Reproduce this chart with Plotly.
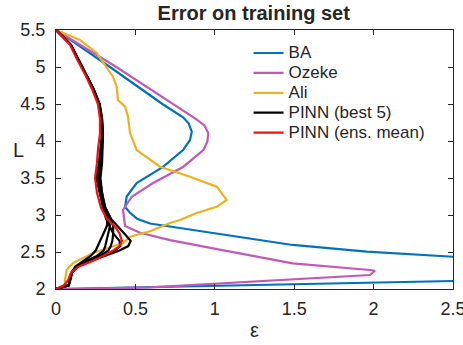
import plotly.graph_objects as go

# ---- data: error eps (x) against L (y) ----
ba_eps = [0, 0.34, 0.67, 0.80, 0.835, 0.855, 0.844, 0.80, 0.674, 0.508, 0.445, 0.435, 0.466,
          0.51, 0.592, 0.989, 1.49, 1.957, 2.5, 3.0, 3.2, 3.0, 2.5, 1.5, 0.5, 0.05, 0]
ba_L = [5.5, 5.0, 4.5, 4.32, 4.24, 4.126, 4.014, 3.878, 3.65, 3.43, 3.25, 3.11, 3.03,
        2.95, 2.885, 2.757, 2.595, 2.504, 2.436, 2.41, 2.3, 2.13, 2.108, 2.065, 2.022,
        2.002, 2.0]

ozeke_eps = [0, 0.38, 0.88, 0.935, 0.959, 0.953, 0.928, 0.80, 0.611, 0.477, 0.422, 0.435,
             0.529, 0.718, 0.989, 1.49, 1.977, 2.009, 1.977, 1.49, 1.0, 0.592, 0.3, 0]
ozeke_L = [5.5, 5.0, 4.30, 4.21, 4.104, 3.99, 3.878, 3.649, 3.432, 3.247, 3.068, 2.85,
           2.76, 2.66, 2.55, 2.347, 2.257, 2.247, 2.189, 2.131, 2.065, 2.023, 2.008, 2.0]

ali_eps = [0, 0.151, 0.256, 0.319, 0.359, 0.382, 0.39, 0.435, 0.453, 0.466, 0.508, 0.655,
           0.844, 1.012, 1.075, 1.012, 0.886, 0.781, 0.718, 0.592, 0.466, 0.422, 0.233,
           0.107, 0.067, 0.057, 0.055, 0]
ali_L = [5.5, 5.365, 5.19, 5.004, 4.869, 4.734, 4.554, 4.464, 4.328, 4.108, 3.878, 3.653,
         3.518, 3.383, 3.203, 3.112, 3.027, 2.932, 2.892, 2.78, 2.707, 2.62, 2.486,
         2.351, 2.257, 2.122, 2.03, 2.0]

pinn_L = [5.5, 5.3, 5.1, 4.9, 4.7, 4.5, 4.3, 4.1, 3.9, 3.7, 3.5, 3.3, 3.1, 2.95, 2.85,
          2.75, 2.65, 2.58, 2.52, 2.45, 2.38, 2.3, 2.22, 2.12, 2.05, 2.0]

pinn_best5 = [
    [0, 0.095, 0.142, 0.192, 0.238, 0.275, 0.29, 0.292, 0.285, 0.28, 0.275, 0.29, 0.31,
     0.345, 0.39, 0.43, 0.47, 0.455, 0.40, 0.31, 0.22, 0.135, 0.10, 0.09, 0.08, 0],
    [0, 0.093, 0.14, 0.19, 0.235, 0.272, 0.287, 0.29, 0.28, 0.27, 0.255, 0.275, 0.30,
     0.325, 0.32, 0.30, 0.28, 0.265, 0.25, 0.22, 0.17, 0.12, 0.10, 0.09, 0.08, 0],
    [0, 0.094, 0.141, 0.191, 0.236, 0.274, 0.29, 0.295, 0.29, 0.285, 0.27, 0.285, 0.31,
     0.345, 0.36, 0.36, 0.355, 0.345, 0.33, 0.28, 0.20, 0.13, 0.10, 0.09, 0.08, 0],
    [0, 0.094, 0.14, 0.19, 0.236, 0.273, 0.288, 0.293, 0.288, 0.283, 0.262, 0.28, 0.295,
     0.315, 0.335, 0.36, 0.40, 0.405, 0.37, 0.30, 0.215, 0.135, 0.10, 0.09, 0.08, 0],
    [0, 0.093, 0.14, 0.19, 0.235, 0.272, 0.289, 0.296, 0.293, 0.29, 0.28, 0.29, 0.305,
     0.33, 0.34, 0.33, 0.32, 0.31, 0.30, 0.26, 0.19, 0.125, 0.095, 0.088, 0.08, 0],
]

pinn_mean = [0, 0.088, 0.133, 0.183, 0.227, 0.264, 0.277, 0.277, 0.265, 0.258, 0.246,
             0.258, 0.283, 0.32, 0.37, 0.40, 0.415, 0.40, 0.36, 0.30, 0.23, 0.14, 0.095,
             0.076, 0.05, 0]

x_ticks = [0, 0.5, 1, 1.5, 2, 2.5]
y_ticks = [2, 2.5, 3, 3.5, 4, 4.5, 5, 5.5]

FONT = "Liberation Sans, Arial, Helvetica, sans-serif"
AX = "#262626"
LW = 2.2


def legend_label(text):
    # larger glyphs than the legend's row spacing font, to keep rows compact
    return f"<span style='font-size:17px'>{text}</span>"


fig = go.Figure()
fig.add_trace(go.Scatter(x=ba_eps, y=ba_L, mode="lines", name=legend_label("BA"),
                         line=dict(color="#0072BD", width=LW)))
fig.add_trace(go.Scatter(x=ozeke_eps, y=ozeke_L, mode="lines", name=legend_label("Ozeke"),
                         line=dict(color="#C05AB4", width=LW)))
fig.add_trace(go.Scatter(x=ali_eps, y=ali_L, mode="lines", name=legend_label("Ali"),
                         line=dict(color="#EDB120", width=LW)))
for i, run in enumerate(pinn_best5):
    fig.add_trace(go.Scatter(x=run, y=pinn_L, mode="lines",
                             name=legend_label("PINN (best 5)"),
                             legendgroup="best5", showlegend=(i == 0),
                             line=dict(color="#000000", width=LW)))
fig.add_trace(go.Scatter(x=pinn_mean, y=pinn_L, mode="lines",
                         name=legend_label("PINN (ens. mean)"),
                         line=dict(color="#F01010", width=LW)))

axis_common = dict(showline=True, linecolor=AX, linewidth=1, mirror="ticks",
                   ticks="inside", ticklen=5, tickcolor=AX, tickwidth=1,
                   showgrid=False, zeroline=False, ticklabeloverflow="allow",
                   automargin=False,
                   tickfont=dict(family=FONT, size=18, color=AX))

fig.update_xaxes(range=[0, 2.5], tickvals=x_ticks,
                 ticktext=[f"{v:g}" for v in x_ticks], ticklabelstandoff=3, **axis_common)
fig.update_yaxes(range=[2, 5.5], tickvals=y_ticks,
                 ticktext=[f"{v:g}" for v in y_ticks], ticklabelstandoff=6, **axis_common)

fig.update_layout(
    width=463, height=345,
    margin=dict(l=56, r=10, t=30, b=56, autoexpand=False),
    paper_bgcolor="white", plot_bgcolor="white",
    font=dict(family=FONT, color=AX),
    title=dict(text="<b>Error on training set</b>", x=0.548, xanchor="center",
               y=0.962, yanchor="middle", font=dict(family=FONT, size=20, color=AX)),
    showlegend=True,
    legend=dict(x=0.485, y=0.969, xanchor="left", yanchor="top",
                bgcolor="rgba(0,0,0,0)", borderwidth=0,
                font=dict(family=FONT, size=13, color=AX),
                tracegroupgap=0, itemwidth=30),
    annotations=[
        dict(text="L", xref="paper", yref="paper", x=-0.095, y=0.535,
             xanchor="center", yanchor="middle", showarrow=False,
             font=dict(family=FONT, size=20, color=AX)),
        dict(text="ε", xref="paper", yref="paper", x=0.5, y=-0.158,
             xanchor="center", yanchor="middle", showarrow=False,
             font=dict(family=FONT, size=20, color=AX)),
    ],
)

fig.write_html("out.html")
